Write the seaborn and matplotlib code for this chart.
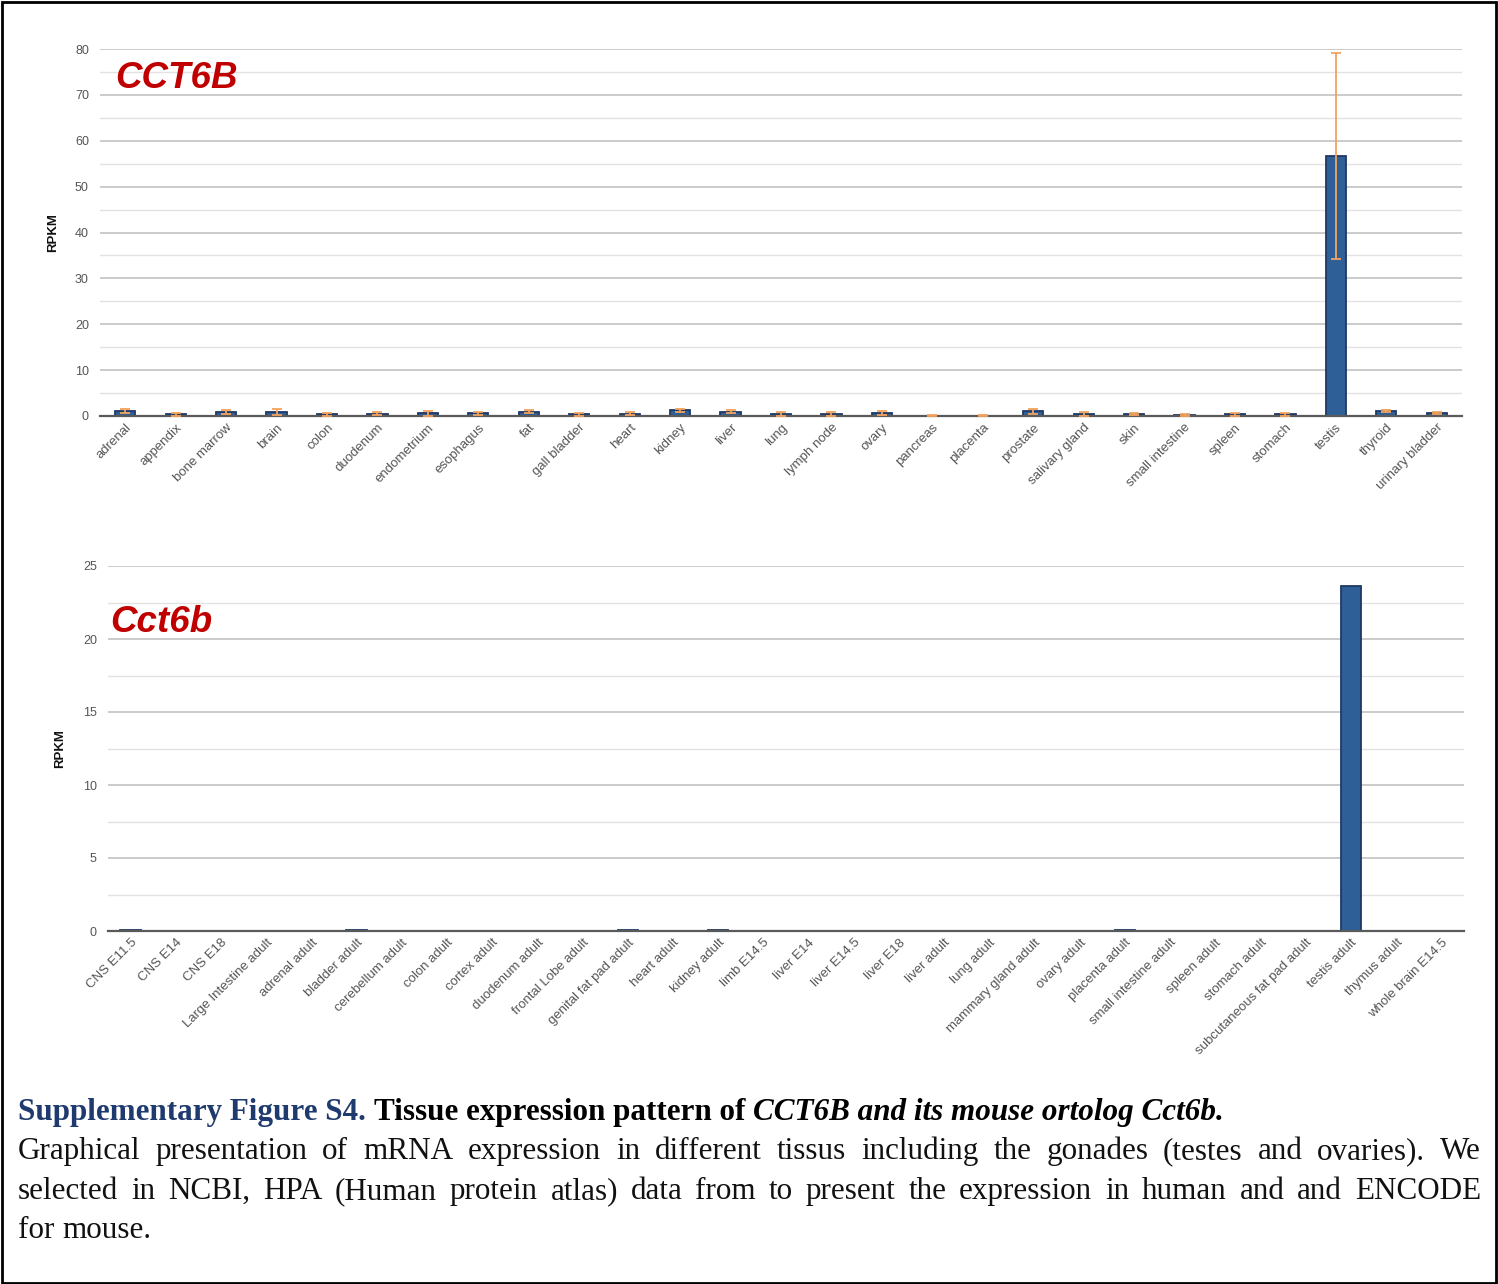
import numpy as np
import pandas as pd
import matplotlib
matplotlib.use("Agg")
import matplotlib.pyplot as plt
import seaborn as sns
from matplotlib.patches import Rectangle
from matplotlib.ticker import MultipleLocator

# ---------------- data ----------------
human_tissues = ["adrenal", "appendix", "bone marrow", "brain", "colon", "duodenum",
                 "endometrium", "esophagus", "fat", "gall bladder", "heart", "kidney",
                 "liver", "lung", "lymph node", "ovary", "pancreas", "placenta",
                 "prostate", "salivary gland", "skin", "small intestine", "spleen",
                 "stomach", "testis", "thyroid", "urinary bladder"]
human_rpkm = [1.1, 0.4, 0.9, 0.9, 0.4, 0.5, 0.6, 0.6, 0.9, 0.4, 0.5, 1.2,
              0.9, 0.4, 0.4, 0.7, 0.1, 0.1, 1.0, 0.4, 0.4, 0.2, 0.4, 0.4,
              56.7, 1.1, 0.6]
human_err = [0.5, 0.3, 0.5, 0.6, 0.3, 0.3, 0.5, 0.3, 0.3, 0.3, 0.3, 0.3,
             0.3, 0.5, 0.4, 0.4, 0.1, 0.2, 0.5, 0.4, 0.2, 0.2, 0.3, 0.3,
             22.5, 0.3, 0.2]

mouse_tissues = ["CNS E11.5", "CNS E14", "CNS E18", "Large Intestine adult",
                 "adrenal adult", "bladder adult", "cerebellum adult", "colon adult",
                 "cortex adult", "duodenum adult", "frontal Lobe adult",
                 "genital fat pad adult", "heart adult", "kidney adult", "limb E14.5",
                 "liver E14", "liver E14.5", "liver E18", "liver adult", "lung adult",
                 "mammary gland adult", "ovary adult", "placenta adult",
                 "small intestine adult", "spleen adult", "stomach adult",
                 "subcutaneous fat pad adult", "testis adult", "thymus adult",
                 "whole brain E14.5"]
mouse_rpkm = [0.06, 0.03, 0.01, 0.0, 0.0, 0.1, 0.0, 0.0, 0.0, 0.0, 0.0,
              0.1, 0.0, 0.05, 0.0, 0.0, 0.0, 0.0, 0.0, 0.0, 0.02, 0.0,
              0.05, 0.0, 0.0, 0.0, 0.0, 23.6, 0.0, 0.0]

gene_titles = ["CCT6B", "Cct6b"]
y_label = "RPKM"

caption_parts = [("Supplementary Figure S4.", "bold", "normal", "#1F3A6E"),
                 ("Tissue expression pattern of", "bold", "normal", "#000000"),
                 ("CCT6B and its mouse ortolog Cct6b.", "bold", "italic", "#000000")]
caption_lines = [
    "Graphical presentation of mRNA expression in different tissus including the gonades (testes and ovaries). We",
    "selected in NCBI, HPA (Human protein atlas) data from to present the expression in human and and ENCODE",
    "for mouse.",
]

# ---------------- style ----------------
sns.set_theme(style="white")
plt.rcParams["font.family"] = ["Liberation Sans", "DejaVu Sans"]

W, H = 1498, 1284
fig = plt.figure(figsize=(W / 100, H / 100), dpi=100)
fig.patch.set_facecolor("white")

BAR = "#2F5F97"
EDGE = "#1F3864"
ERR = "#F2A35E"
TICK = "#555555"


def px_axes(l, t, r, b):
    return fig.add_axes([l / W, 1 - b / H, (r - l) / W, (b - t) / H])


def style_axes(ax, ymax, major, minor, labels, label_x):
    ax.set_ylim(0, ymax)
    ax.set_xlim(-0.5, len(labels) - 0.5)
    ax.yaxis.set_major_locator(MultipleLocator(major))
    ax.yaxis.set_minor_locator(MultipleLocator(minor))
    ax.grid(which="major", axis="y", color="#BDBDBD", lw=1.1)
    ax.grid(which="minor", axis="y", color="#E2E2E2", lw=1.0)
    ax.grid(which="major", axis="x", visible=False)
    ax.set_axisbelow(True)
    for s in ["top", "left", "right"]:
        ax.spines[s].set_visible(False)
    ax.spines["bottom"].set_color("#5A5A5A")
    ax.spines["bottom"].set_linewidth(1.6)
    ax.tick_params(axis="both", which="both", length=0, colors=TICK)
    ax.tick_params(axis="y", labelsize=9, pad=8)
    ax.tick_params(axis="x", labelsize=9.5, pad=4)
    ax.set_xticks(range(len(labels)))
    ax.set_xticklabels(labels, rotation=45, ha="right", rotation_mode="anchor", color=TICK)
    ax.set_xlabel("")
    ax.set_ylabel(y_label, fontsize=9.5, fontweight="bold", color="#111111")
    ax.yaxis.set_label_coords(label_x, 0.5)


# ---- top chart (human) ----
ax1 = px_axes(100, 49, 1462, 416)
df_h = pd.DataFrame({"tissue": human_tissues, "rpkm": human_rpkm, "err": human_err})
sns.barplot(data=df_h, x="tissue", y="rpkm", ax=ax1, color=BAR, saturation=1,
            width=0.4, edgecolor=EDGE, linewidth=1.3, errorbar=None)
ax1.errorbar(x=np.arange(len(human_tissues)), y=df_h["rpkm"], yerr=df_h["err"],
             fmt="none", ecolor=ERR, elinewidth=1.3, capsize=3.6, capthick=1.3, zorder=5)
style_axes(ax1, 80, 10, 5, human_tissues, (59 - 100) / 1362)
ax1.text((115 - 100) / 1362, (416 - 79) / 367, gene_titles[0], transform=ax1.transAxes,
         fontsize=26.5, fontweight="bold", fontstyle="italic", color="#C00000",
         ha="left", va="center", zorder=6)

# ---- bottom chart (mouse) ----
ax2 = px_axes(108, 566, 1464, 931)
df_m = pd.DataFrame({"tissue": mouse_tissues, "rpkm": mouse_rpkm})
sns.barplot(data=df_m, x="tissue", y="rpkm", ax=ax2, color=BAR, saturation=1,
            width=0.45, edgecolor=EDGE, linewidth=1.3, errorbar=None)
style_axes(ax2, 25, 5, 2.5, mouse_tissues, (66 - 108) / 1356)
ax2.text((110 - 108) / 1356, (931 - 623) / 365, gene_titles[1], transform=ax2.transAxes,
         fontsize=26.5, fontweight="bold", fontstyle="italic", color="#C00000",
         ha="left", va="center", zorder=6)

# ---------------- caption ----------------
SERIF = ["Liberation Serif", "DejaVu Serif"]
renderer = fig.canvas.get_renderer()


def text_width(s, **kw):
    t = fig.text(0, 0, s, **kw)
    w = t.get_window_extent(renderer).width
    t.remove()
    return w


x_left, x_right = 18, 1481
base_y = [1120, 1159, 1199, 1238]

# choose a size that keeps justified lines from overflowing
CAP_FS = 22.4
while True:
    kw_test = dict(fontsize=CAP_FS, family=SERIF)
    worst = max(text_width(l, **kw_test) for l in caption_lines[:-1])
    if worst <= (x_right - x_left) - 2 or CAP_FS < 16:
        break
    CAP_FS -= 0.2

# line 1 (mixed styles)
x = x_left
for i, (s, wt, st, col) in enumerate(caption_parts):
    kw = dict(fontsize=CAP_FS, fontweight=wt, fontstyle=st, family=SERIF)
    fig.text(x / W, 1 - base_y[0] / H, s, color=col, va="baseline", ha="left", **kw)
    sp = text_width("a a", **kw) - text_width("aa", **kw)
    x += text_width(s, **kw) + sp

# body lines (justified except last)
kw = dict(fontsize=CAP_FS, family=SERIF, color="#111111")
for li, line in enumerate(caption_lines):
    words = line.split(" ")
    widths = [text_width(w, **kw) for w in words]
    yb = 1 - base_y[li + 1] / H
    if li < len(caption_lines) - 1:
        gap = (x_right - x_left - sum(widths)) / (len(words) - 1)
    else:
        gap = text_width("a a", **kw) - text_width("aa", **kw)
    x = x_left
    for w, wd in zip(words, widths):
        fig.text(x / W, yb, w, va="baseline", ha="left", **kw)
        x += wd + gap

# outer frame
fig.add_artist(Rectangle((1.5 / W, 1.5 / H), (W - 3.5) / W, (H - 3.5) / H,
                         transform=fig.transFigure, fill=False, lw=2, ec="black"))

fig.savefig("out.png", dpi=100, facecolor="white")
